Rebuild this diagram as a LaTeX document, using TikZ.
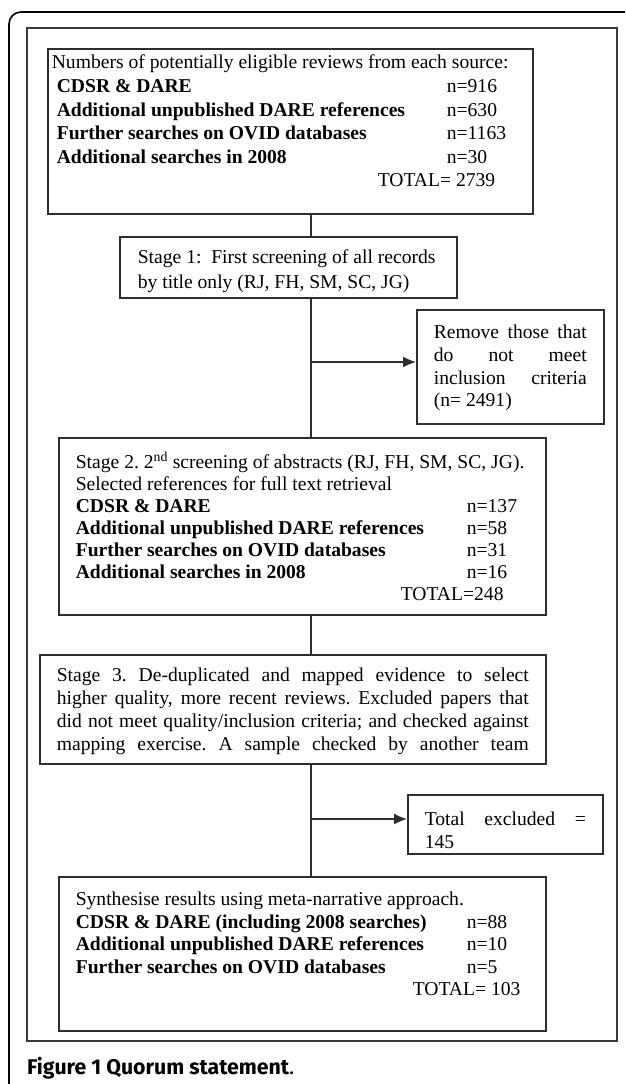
\documentclass[tikz,border=0pt]{standalone}
\usepackage{fontspec}
\setmainfont{Liberation Serif}
\setsansfont{Fira Sans}
\usepackage{tikz}
\usetikzlibrary{arrows.meta}
\usetikzlibrary{calc}

\definecolor{boxgray}{HTML}{2E2E2E}
\definecolor{framegray}{HTML}{3A3A3A}
\hbadness=10000
\frenchspacing

\newcommand{\srcrow}[3]{\makebox[#1][l]{\textbf{#2}}#3}
\newcommand{\boxbody}[5]{\parbox[b][#2][t]{#1}{\fontsize{19.6}{#4}\selectfont\rule{0pt}{#3}#5}}

\tikzset{
	flowbox/.style={draw=boxgray,line width=1.6pt,inner xsep=17pt,inner ysep=0pt,anchor=north west},
	trunk/.style={draw=boxgray,line width=1.4pt},
	branch/.style={trunk,-{Latex[length=13pt,width=11pt]}}
}

\begin{document}
\begin{tikzpicture}[x=1pt,y=-1pt]
	\useasboundingbox (0,0) rectangle (625,1084);
	\begin{scope}
		\clip (0,0) rectangle (625,1084);
		\draw[line width=1.6pt,rounded corners=12pt] (9,12) rectangle (660,1100);
	\end{scope}
	\draw[line width=1.8pt,draw=framegray] (27,28) rectangle (617,1041);

	\node[flowbox,inner xsep=4pt] (src) at (47,48) {\boxbody{477pt}{165pt}{20pt}{23.6pt}{%
		Numbers of potentially eligible reviews from each source:\\
		\hspace*{5pt}\srcrow{390pt}{CDSR \& DARE}{n=916}\\
		\hspace*{5pt}\srcrow{390pt}{Additional unpublished DARE references}{n=630}\\
		\hspace*{5pt}\srcrow{390pt}{Further searches on OVID databases}{n=1163}\\
		\hspace*{5pt}\srcrow{390pt}{Additional searches in 2008}{n=30}\\
		\hspace*{326pt}TOTAL= 2739}};
	\node[flowbox,inner xsep=18pt] (stage1) at (119,236) {\boxbody{301pt}{61pt}{27pt}{25pt}{%
		Stage 1:\ \ First screening of all records\\
		by title only (RJ, FH, SM, SC, JG)}};
	\node[flowbox] (remove) at (416,309) {\boxbody{153pt}{114pt}{29pt}{22.7pt}{%
		Remove those that\linebreak do not meet\linebreak inclusion criteria\linebreak (n= 2491)}};
	\node[flowbox] (stage2) at (58,437) {\boxbody{453pt}{177pt}{31pt}{21.9pt}{%
		Stage 2. 2\textsuperscript{nd} screening of abstracts (RJ, FH, SM, SC, JG).\\
		Selected references for full text retrieval\\
		\srcrow{391pt}{CDSR \& DARE}{n=137}\\
		\srcrow{391pt}{Additional unpublished DARE references}{n=58}\\
		\srcrow{391pt}{Further searches on OVID databases}{n=31}\\
		\srcrow{391pt}{Additional searches in 2008}{n=16}\\
		\hspace*{325pt}TOTAL=248}};
	\node[flowbox] (stage3) at (39,654) {\boxbody{472pt}{109pt}{27pt}{22.8pt}{%
		\parfillskip=0pt\relax
		Stage 3. De-duplicated and mapped evidence to select\linebreak
		higher quality, more recent reviews. Excluded papers that\linebreak
		did not meet quality/inclusion criteria; and checked against\linebreak
		mapping exercise. A sample checked by another team}};
	\node[flowbox] (excl) at (407,794) {\boxbody{161pt}{59pt}{31pt}{23pt}{%
		Total excluded =\linebreak 145}};
	\node[flowbox] (synth) at (58,876) {\boxbody{453pt}{154pt}{29pt}{22.5pt}{%
		Synthesise results using meta-narrative approach.\\
		\srcrow{391pt}{CDSR \& DARE (including 2008 searches)}{n=88}\\
		\srcrow{391pt}{Additional unpublished DARE references}{n=10}\\
		\srcrow{391pt}{Further searches on OVID databases}{n=5}\\
		\hspace*{337pt}TOTAL= 103}};

	\coordinate (spine) at (311,0);
	\coordinate (cut1) at (311,362);
	\coordinate (cut2) at (311,819);
	\draw[trunk] (src.south -| spine) -- (stage1.north -| spine);
	\draw[trunk] (stage1.south -| spine) -- (stage2.north -| spine);
	\draw[branch] (cut1) -- (cut1 -| remove.west);
	\draw[trunk] (stage2.south -| spine) -- (stage3.north -| spine);
	\draw[trunk] (stage3.south -| spine) -- (synth.north -| spine);
	\draw[branch] (cut2) -- (cut2 -| excl.west);

	\node[anchor=base west,inner sep=0pt] (caption) at (27,1074) {\fontsize{21.3}{24}\selectfont\sffamily\bfseries Figure 1 Quorum statement{\mdseries.}};
\end{tikzpicture}
\end{document}
